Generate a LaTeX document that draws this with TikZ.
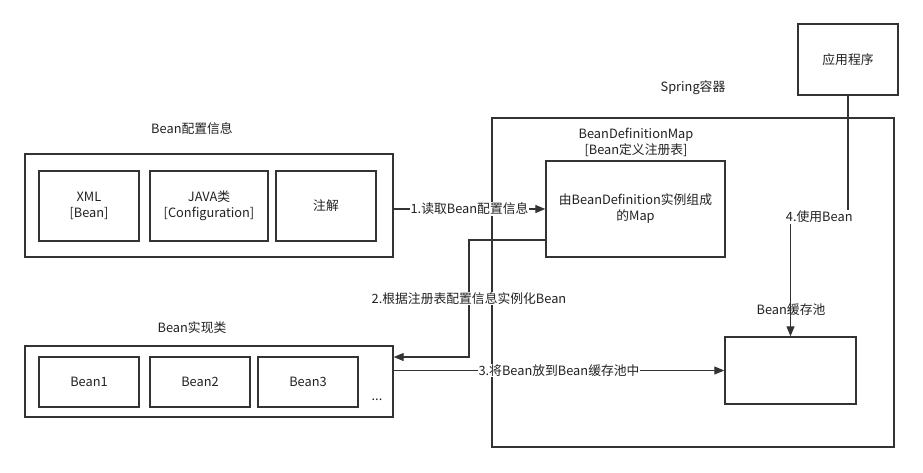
\documentclass[tikz,border=0pt]{standalone}
\usepackage{fontspec}
\setmainfont{Noto Sans CJK SC}
\usetikzlibrary{arrows.meta,calc}
\definecolor{ln}{HTML}{333333}
\definecolor{tx}{HTML}{222222}
\begin{document}
\begin{tikzpicture}[x=1pt,y=-1pt,
  font=\fontsize{12.8}{16}\selectfont,
  box/.style={draw=ln,line width=1.4pt,inner sep=0pt,align=center,text=tx},
  lbl/.style={inner sep=0pt,align=center,text=tx},
  elbl/.style={fill=white,inner sep=1pt,align=center,text=tx},
  arr/.style={draw=ln,line width=1.1pt,-{Triangle[length=10pt,width=8pt]}},
  con/.style={draw=ln,line width=1.1pt}]
\useasboundingbox[fill=white] (0,0) rectangle (923,472);
% Spring container
\node[box,minimum width=402pt,minimum height=329pt] (spring) at (693,282.5) {};
\node[lbl] (springl) at (693,88) {Spring容器};
% config group
\node[box,minimum width=368pt,minimum height=103pt] (cfg) at (209,205.5) {};
\node[lbl] (cfgl) at (192,129) {Bean配置信息};
\node[box,minimum width=100pt,minimum height=70pt] (xml) at (89,206) {XML\\{}[Bean]};
\node[box,minimum width=118pt,minimum height=70pt] (java) at (209,206) {JAVA类\\{}[Configuration]};
\node[box,minimum width=100pt,minimum height=70pt] (anno) at (326,206) {注解};
% impl group
\node[box,minimum width=368pt,minimum height=71pt] (impl) at (209,381.5) {};
\node[lbl] (impll) at (192,328) {Bean实现类};
\node[box,minimum width=100pt,minimum height=50pt] (b1) at (89,382) {Bean1};
\node[box,minimum width=100pt,minimum height=50pt] (b2) at (200,382) {Bean2};
\node[box,minimum width=100pt,minimum height=50pt] (b3) at (308,382) {Bean3};
\node[lbl] (dots) at (377,400) {...};
% BDM
\node[box,minimum width=179pt,minimum height=96pt] (bdm) at (635.5,209) {由BeanDefinition实例组成\\的Map};
\node[lbl] (bdml) at (636,142) {BeanDefinitionMap\\{}[Bean定义注册表]};
% app
\node[box,minimum width=100pt,minimum height=71pt] (app) at (848,59.5) {应用程序};
% cache
\node[box,minimum width=131pt,minimum height=67pt] (cache) at (790.5,370.5) {};
% connectors
\draw[arr] (cfg.east |- bdm.west) -- (bdm.west);
\coordinate (c2a) at (469,240);
\coordinate (c2b) at (469,357);
\draw[arr] (bdm.west |- c2a) -- (c2a) -- (c2b) -- (impl.east |- c2b);
\draw[arr] (impl.east |- cache.west) -- (cache.west);
\coordinate (c4) at (cache.north |- 0,217);
\draw[arr] (app.south) -- (app.south |- c4) -- (c4) -- (cache.north);
% labels
\node[lbl] (cachel) at (791,310) {Bean缓存池};
\node[elbl] (l1) at ($(cfg.east |- bdm.west)!0.5!(bdm.west)$) {1.读取Bean配置信息};
\node[elbl] (l2) at ($(c2a)!0.5!(c2b)$) {2.根据注册表配置信息实例化Bean};
\node[elbl] (l3) at ($(impl.east |- cache.west)!0.5!(cache.west)$) {3.将Bean放到Bean缓存池中};
\node[elbl] (l4) at ($(app.south |- c4)!0.5!(c4)$) {4.使用Bean};
\end{tikzpicture}
\end{document}
